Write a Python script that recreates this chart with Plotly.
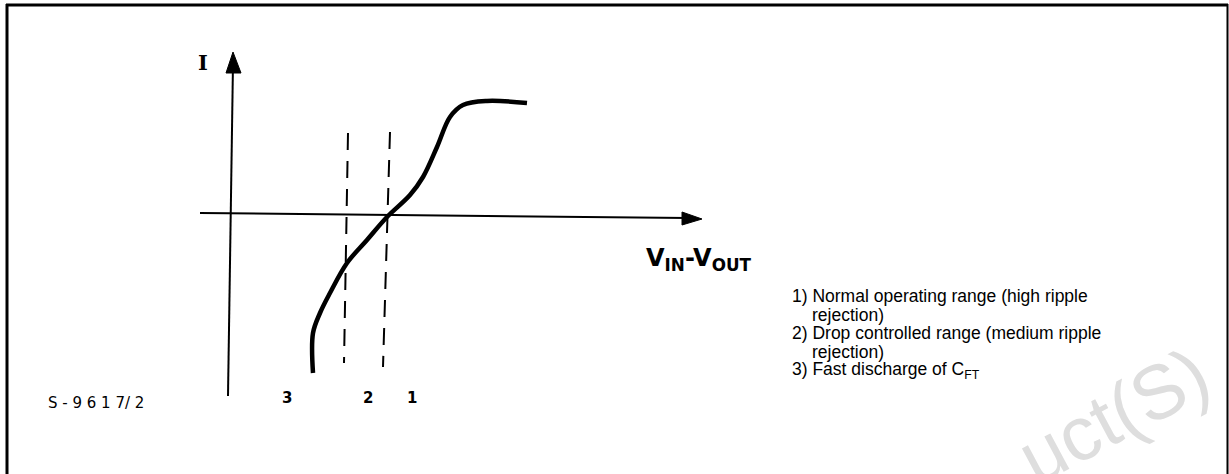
import plotly.graph_objects as go

# ---- data (diagram units: origin at axes crossing, x right, y up) ----
curve_v = [80, 80, 87, 97, 114, 134, 154, 177, 190, 204, 217, 230, 254, 294]
curve_i = [-160, -120, -100, -80, -50, -27, -4, 18, 36, 66, 96, 108, 112, 110]

dash1_v = [115, 111]
dash1_i = [80, -150]
dash2_v = [157, 150]
dash2_i = [81, -154]

yaxis_v = [-5, 0]
yaxis_i = [-183, 150]
yarrow_v = [0, -7, 8, 0]
yarrow_i = [161, 140, 140, 161]

xaxis_v = [-33, 455]
xaxis_i = [0, -5]
xarrow_v = [469, 449, 449, 469]
xarrow_i = [-6, 1, -12, -6]

region_labels = ["3", "2", "1"]
region_label_v = [54, 135, 179]
region_label_i = [-185, -185, -185]

legend_lines = [
    "1) Normal operating range (high ripple",
    "rejection)",
    "2) Drop controlled range (medium ripple",
    "rejection)",
    "3) Fast discharge of C<sub>FT</sub>",
]
legend_indent = [0, 1, 0, 1, 0]

fig = go.Figure()

line_col = "black"

fig.add_trace(go.Scatter(x=yaxis_v, y=yaxis_i, mode="lines",
                         line=dict(color=line_col, width=2), hoverinfo="skip"))
fig.add_trace(go.Scatter(x=yarrow_v, y=yarrow_i, mode="lines", fill="toself",
                         fillcolor=line_col, line=dict(color=line_col, width=1), hoverinfo="skip"))
fig.add_trace(go.Scatter(x=xaxis_v, y=xaxis_i, mode="lines",
                         line=dict(color=line_col, width=2), hoverinfo="skip"))
fig.add_trace(go.Scatter(x=xarrow_v, y=xarrow_i, mode="lines", fill="toself",
                         fillcolor=line_col, line=dict(color=line_col, width=1), hoverinfo="skip"))
fig.add_trace(go.Scatter(x=dash1_v, y=dash1_i, mode="lines",
                         line=dict(color=line_col, width=2, dash="17px,11px"), hoverinfo="skip"))
fig.add_trace(go.Scatter(x=dash2_v, y=dash2_i, mode="lines",
                         line=dict(color=line_col, width=2, dash="17px,11px"), hoverinfo="skip"))
fig.add_trace(go.Scatter(x=curve_v, y=curve_i, mode="lines",
                         line=dict(color=line_col, width=4.5, shape="spline", smoothing=1),
                         hoverinfo="skip"))

annotations = []
# axis labels
annotations.append(dict(x=-30, y=151, text="<b>I</b>", showarrow=False,
                        font=dict(family="DejaVu Serif", size=21, color="black")))
annotations.append(dict(x=466, y=-46, text="<b>V<sub>IN</sub>-V<sub>OUT</sub></b>", showarrow=False,
                        font=dict(family="DejaVu Sans", size=24, color="black")))
for lab, vx, iy in zip(region_labels, region_label_v, region_label_i):
    annotations.append(dict(x=vx, y=iy, text="<b>" + lab + "</b>", showarrow=False,
                            font=dict(family="DejaVu Sans", size=15, color="black")))
annotations.append(dict(x=-137, y=-190, text="S - 9 6 1 7/ 2", showarrow=False,
                        font=dict(family="DejaVu Sans", size=15, color="black")))

# watermark
annotations.append(dict(x=880, y=-202, text="uct(S)", showarrow=False, textangle=-28,
                        font=dict(family="Liberation Sans", size=76, color="#dedede")))

# legend text
base_x = 557
base_y = -83
for k, (t, ind) in enumerate(zip(legend_lines, legend_indent)):
    annotations.append(dict(x=base_x + 20 * ind, y=base_y - 18.5 * k, text=t, showarrow=False,
                            xanchor="left", yanchor="middle",
                            font=dict(family="Liberation Sans", size=17.5, color="black")))

fig.update_layout(
    width=1229, height=474,
    margin=dict(l=0, r=0, t=0, b=0),
    paper_bgcolor="white", plot_bgcolor="white",
    showlegend=False,
    xaxis=dict(range=[-233, 996], visible=False, fixedrange=True),
    yaxis=dict(range=[-261, 213], visible=False, fixedrange=True),
    annotations=annotations,
    shapes=[
        dict(type="line", xref="paper", yref="paper", x0=7 / 1229, x1=7 / 1229, y0=0, y1=1 - 4 / 474,
             line=dict(color="black", width=3)),
        dict(type="line", xref="paper", yref="paper", x0=6 / 1229, x1=1228 / 1229,
             y0=1 - 5 / 474, y1=1 - 5 / 474, line=dict(color="black", width=3)),
        dict(type="line", xref="paper", yref="paper", x0=1227.5 / 1229, x1=1227.5 / 1229,
             y0=0, y1=1 - 4 / 474, line=dict(color="black", width=2)),
    ],
)

fig.write_html("out.html", config={"displayModeBar": False},
               post_script="document.body.style.margin='0px';")
